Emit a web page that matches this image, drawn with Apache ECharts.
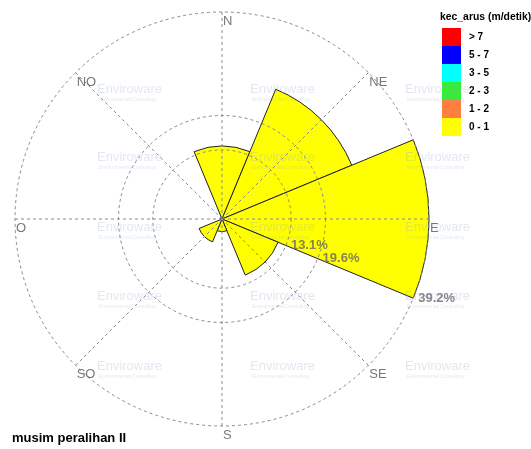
<!DOCTYPE html>
<html>
<head>
<meta charset="utf-8">
<script src="https://cdn.jsdelivr.net/npm/echarts@6/dist/echarts.min.js"></script>
<style>
html, body { margin: 0; padding: 0; background: #fff; }
#chart { width: 531px; height: 449px; }
</style>
</head>
<body>
<div id="chart"></div>
<script>
// directions (clockwise from north)
var directions = ["N", "NE", "E", "SE", "S", "SO", "O", "NO"]
// speed classes, slowest first
var classNames = ["0 - 1", "1 - 2", "2 - 3", "3 - 5", "5 - 7", "> 7"]
var classColors = ["#ffff00", "#ff7f3f", "#33ee33", "#00ffff", "#0000ff", "#ff0000"]
// frequency (%) per direction for each class
var speed0to1 = [13.8, 26.6, 39.2, 11.5, 2.4, 4.7, 0.3, 0.4]
var speed1to2 = [0, 0, 0, 0, 0, 0, 0, 0]
var speed2to3 = [0, 0, 0, 0, 0, 0, 0, 0]
var speed3to5 = [0, 0, 0, 0, 0, 0, 0, 0]
var speed5to7 = [0, 0, 0, 0, 0, 0, 0, 0]
var speedOver7 = [0, 0, 0, 0, 0, 0, 0, 0]
// rings
var ringValues = [13.1, 19.6, 39.2]
var ringLabels = ["13.1%", "19.6%", "39.2%"]
var maxValue = 39.2

var classData = [speed0to1, speed1to2, speed2to3, speed3to5, speed5to7, speedOver7]

var cx = 222,
	cy = 219,
	R = 207
var dashed = { color: "#8a8a8a", width: 1, type: [3, 3] }
var step = 360 / directions.length

var hiddenRadius = function(i) {
	return {
		polarIndex: i,
		type: "value",
		min: 0,
		max: maxValue,
		axisLine: { show: false },
		axisTick: { show: false },
		axisLabel: { show: false },
		splitLine: { show: false }
	}
}
var ringAngle = function(i) {
	return {
		polarIndex: i,
		type: "value",
		min: 0,
		max: 360,
		startAngle: 90,
		z: 10,
		axisLine: { show: true, lineStyle: dashed },
		axisTick: { show: false },
		axisLabel: { show: false },
		splitLine: { show: false }
	}
}

var series = classNames.map(function(name, k) {
	return {
		name: name,
		type: "bar",
		coordinateSystem: "polar",
		polarIndex: 0,
		stack: "speed",
		barCategoryGap: "0%",
		itemStyle: { color: classColors[k], borderColor: "#222", borderWidth: 1 },
		data: classData[k].map(function(v) {
			return v > 0 ? v : "-"
		}),
		z: 2
	}
})

series.push({
	type: "scatter",
	coordinateSystem: "polar",
	polarIndex: 1,
	symbolSize: 0,
	silent: true,
	z: 20,
	data: directions.map(function(d, i) {
		return [maxValue, i * step]
	}),
	label: {
		show: true,
		position: [1, 3],
		fontFamily: "Liberation Sans",
		fontSize: 13,
		color: "#555",
		formatter: function(p) {
			return directions[p.dataIndex]
		}
	}
})

series.push({
	type: "scatter",
	coordinateSystem: "polar",
	polarIndex: 1,
	symbolSize: 0,
	silent: true,
	z: 20,
	data: ringValues.map(function(v) {
		return [v, 112.5]
	}),
	label: {
		show: true,
		position: "right",
		distance: 5,
		offset: [0, 0],
		fontFamily: "Liberation Sans",
		fontSize: 13,
		fontWeight: "bold",
		color: "#666",
		formatter: function(p) {
			return ringLabels[p.dataIndex]
		}
	}
})

// watermark tiles
var graphics = []
;[97, 250, 405].forEach(function(x) {
	;[83, 151, 221, 290, 360].forEach(function(y) {
		graphics.push({
			type: "text",
			left: x,
			top: y,
			z: 100,
			silent: true,
			style: {
				text: "Enviroware",
				font: "13px 'Liberation Sans'",
				fill: "rgba(150,170,205,0.28)"
			}
		})
		graphics.push({
			type: "text",
			left: x + 2,
			top: y + 14,
			z: 100,
			silent: true,
			style: {
				text: "Environmental Consulting",
				font: "5px 'Liberation Sans'",
				fill: "rgba(150,170,205,0.28)"
			}
		})
	})
})

var option = {
	animation: false,
	backgroundColor: "#fff",
	title: [
		{
			text: "musim peralihan II",
			left: 12,
			top: 432,
			padding: 0,
			textStyle: { fontFamily: "Liberation Sans", fontSize: 13, fontWeight: "bold", color: "#000" }
		},
		{
			text: "kec_arus (m/detik)",
			left: 440,
			top: 12,
			padding: 0,
			textStyle: { fontFamily: "Liberation Sans", fontSize: 10.4, fontWeight: "bold", color: "#000" }
		}
	],
	legend: {
		orient: "vertical",
		left: 442,
		top: 28,
		padding: 0,
		itemWidth: 19,
		itemHeight: 18,
		itemGap: 0,
		icon: "rect",
		selectedMode: false,
		itemStyle: { borderWidth: 0 },
		data: classNames.slice().reverse(),
		textStyle: {
			fontFamily: "Liberation Sans",
			fontSize: 10,
			fontWeight: "bold",
			color: "#000",
			padding: [0, 0, 0, 3]
		}
	},
	polar: [
		{ center: [cx, cy], radius: R },
		{ center: [cx, cy], radius: R },
		{ center: [cx, cy], radius: (R * ringValues[0]) / maxValue },
		{ center: [cx, cy], radius: (R * ringValues[1]) / maxValue }
	],
	angleAxis: [
		{
			polarIndex: 0,
			type: "category",
			data: directions,
			startAngle: 90 + step / 2,
			boundaryGap: true,
			axisLine: { show: false },
			axisTick: { show: false },
			axisLabel: { show: false },
			splitLine: { show: false }
		},
		{
			polarIndex: 1,
			type: "value",
			min: 0,
			max: 360,
			interval: step,
			startAngle: 90,
			z: 10,
			axisLine: { show: true, lineStyle: dashed },
			axisTick: { show: false },
			axisLabel: { show: false },
			splitLine: { show: true, lineStyle: dashed }
		},
		ringAngle(2),
		ringAngle(3)
	],
	radiusAxis: [hiddenRadius(0), hiddenRadius(1), hiddenRadius(2), hiddenRadius(3)],
	graphic: graphics,
	series: series
}

var myChart = echarts.init(document.getElementById("chart"))
myChart.setOption(option)
</script>
</body>
</html>
